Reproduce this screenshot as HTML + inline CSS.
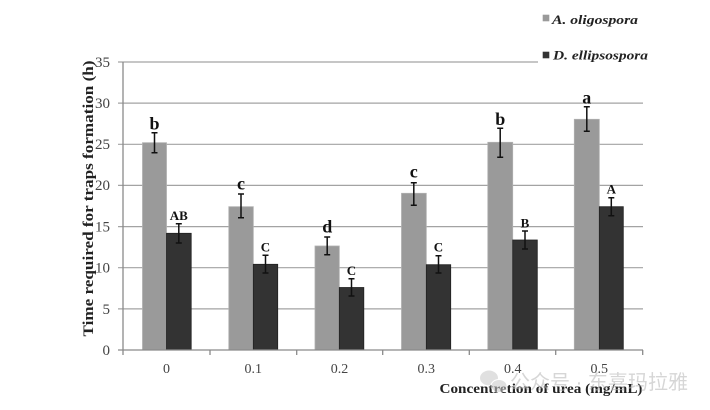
<!DOCTYPE html>
<html><head><meta charset="utf-8"><style>
html,body{margin:0;padding:0;background:#fff;}
svg{display:block;}
</style></head><body>
<svg width="710" height="410" viewBox="0 0 710 410" xmlns="http://www.w3.org/2000/svg" font-family="'Liberation Serif', serif">
<rect width="710" height="410" fill="#fff"/>
<!-- gridlines -->
<g stroke="#a3a3a3" stroke-width="1.2">
<line x1="118" y1="62" x2="538" y2="62"/>
<line x1="118" y1="103.1" x2="643" y2="103.1"/>
<line x1="118" y1="144.3" x2="643" y2="144.3"/>
<line x1="118" y1="185.4" x2="643" y2="185.4"/>
<line x1="118" y1="226.6" x2="643" y2="226.6"/>
<line x1="118" y1="267.7" x2="643" y2="267.7"/>
<line x1="118" y1="308.9" x2="643" y2="308.9"/>
</g>
<!-- bars gray -->
<g fill="#9a9a9a" stroke="#b0b0b0" stroke-width="0.8">
<rect x="142.5" y="142.7" width="24" height="207.3"/>
<rect x="228.8" y="206.7" width="24.5" height="143.3"/>
<rect x="315" y="246" width="24.3" height="104"/>
<rect x="401.5" y="193.3" width="24.8" height="156.7"/>
<rect x="487.8" y="142.3" width="24.9" height="207.7"/>
<rect x="574.3" y="119.3" width="25" height="230.7"/>
</g>
<g fill="#333333" stroke="#222" stroke-width="0.8">
<rect x="166.5" y="233.3" width="24.7" height="116.7"/>
<rect x="253.3" y="264.3" width="24.4" height="85.7"/>
<rect x="339.3" y="287.5" width="24.5" height="62.5"/>
<rect x="426.3" y="264.7" width="24.4" height="85.3"/>
<rect x="512.7" y="240" width="24.6" height="110"/>
<rect x="599.3" y="206.7" width="24" height="143.3"/>
</g>
<!-- axes -->
<g stroke="#8a8a8a" stroke-width="1.3">
<line x1="123" y1="62" x2="123" y2="350"/>
<line x1="118" y1="350" x2="643" y2="350"/>
<line x1="210" y1="350" x2="210" y2="355"/>
<line x1="296.7" y1="350" x2="296.7" y2="355"/>
<line x1="382.7" y1="350" x2="382.7" y2="355"/>
<line x1="469.3" y1="350" x2="469.3" y2="355"/>
<line x1="555.7" y1="350" x2="555.7" y2="355"/>
<line x1="642.7" y1="350" x2="642.7" y2="355"/>
<line x1="123" y1="350" x2="123" y2="355"/>
</g>
<!-- error bars -->
<g stroke="#111" stroke-width="1.5" fill="none">
<path d="M154.5 132.7V152.7M151.5 132.7H157.5M151.5 152.7H157.5"/>
<path d="M178.8 223.7V243M175.8 223.7H181.8M175.8 243H181.8"/>
<path d="M241 194V217.7M238 194H244M238 217.7H244"/>
<path d="M265.5 255.3V273M262.5 255.3H268.5M262.5 273H268.5"/>
<path d="M327.2 237V254.7M324.2 237H330.2M324.2 254.7H330.2"/>
<path d="M351.5 278.7V296M348.5 278.7H354.5M348.5 296H354.5"/>
<path d="M413.8 182.7V205.3M410.8 182.7H416.8M410.8 205.3H416.8"/>
<path d="M438.5 255.7V273M435.5 255.7H441.5M435.5 273H441.5"/>
<path d="M500.2 128.3V157.3M497.2 128.3H503.2M497.2 157.3H503.2"/>
<path d="M525 231V249M522 231H528M522 249H528"/>
<path d="M586.8 106.7V131.3M583.8 106.7H589.8M583.8 131.3H589.8"/>
<path d="M611.3 197.7V215.7M608.3 197.7H614.3M608.3 215.7H614.3"/>
</g>
<!-- significance labels -->
<g font-weight="bold" fill="#111" text-anchor="middle">
<g font-size="18">
<text x="154.5" y="129.5">b</text>
<text x="241" y="189.3">c</text>
<text x="327.2" y="232.5">d</text>
<text x="413.8" y="177.5">c</text>
<text x="500.2" y="125">b</text>
<text x="586.8" y="103.3">a</text>
</g>
<g font-size="13">
<text x="178.8" y="220">AB</text>
<text x="265.5" y="251.5">C</text>
<text x="351.5" y="275">C</text>
<text x="438.5" y="251.5">C</text>
<text x="525" y="227.5">B</text>
<text x="611.3" y="193.3">A</text>
</g>
</g>
<!-- y tick labels -->
<g font-size="15" fill="#444" text-anchor="end">
<text x="110" y="67">35</text>
<text x="110" y="108">30</text>
<text x="110" y="149">25</text>
<text x="110" y="190">20</text>
<text x="110" y="231.5">15</text>
<text x="110" y="272.5">10</text>
<text x="110" y="314">5</text>
<text x="110" y="355">0</text>
</g>
<!-- x tick labels -->
<g font-size="14" fill="#444" text-anchor="middle">
<text x="166.5" y="373">0</text>
<text x="253.3" y="373">0.1</text>
<text x="339.5" y="373">0.2</text>
<text x="426.3" y="373">0.3</text>
<text x="512.7" y="373">0.4</text>
<text x="599.3" y="373">0.5</text>
</g>
<!-- y title -->
<text transform="translate(93,198.5) rotate(-90)" text-anchor="middle" font-size="14.5" font-weight="bold" fill="#222" textLength="276" lengthAdjust="spacingAndGlyphs">Time required  for traps formation (h)</text>
<!-- x title -->
<text x="439.5" y="393" font-size="14" font-weight="bold" fill="#222" textLength="203" lengthAdjust="spacingAndGlyphs">Concentretion of urea (mg/mL)</text>
<!-- legend -->
<rect x="542.7" y="14.7" width="6.6" height="6.6" fill="#9a9a9a"/>
<text x="552" y="24" font-size="13" font-weight="bold" font-style="italic" fill="#222" textLength="86" lengthAdjust="spacingAndGlyphs">A. oligospora</text>
<rect x="542.7" y="51.7" width="6.6" height="6.6" fill="#333"/>
<text x="553" y="59.5" font-size="13" font-weight="bold" font-style="italic" fill="#222" textLength="95" lengthAdjust="spacingAndGlyphs">D. ellipsospora</text>
<!-- watermark -->
<g opacity="0.55">
<ellipse cx="489" cy="378" rx="9" ry="7.5" fill="#c8c8c8"/>
<ellipse cx="499" cy="386" rx="8" ry="6.5" fill="#c8c8c8" stroke="#fff" stroke-width="1"/>
<text x="510" y="389" font-family="'Liberation Sans','Noto Sans CJK SC',sans-serif" font-size="20" fill="#b5b5b5" textLength="178" lengthAdjust="spacingAndGlyphs">公众号 · 东喜玛拉雅</text>
</g>
</svg>
</body></html>
